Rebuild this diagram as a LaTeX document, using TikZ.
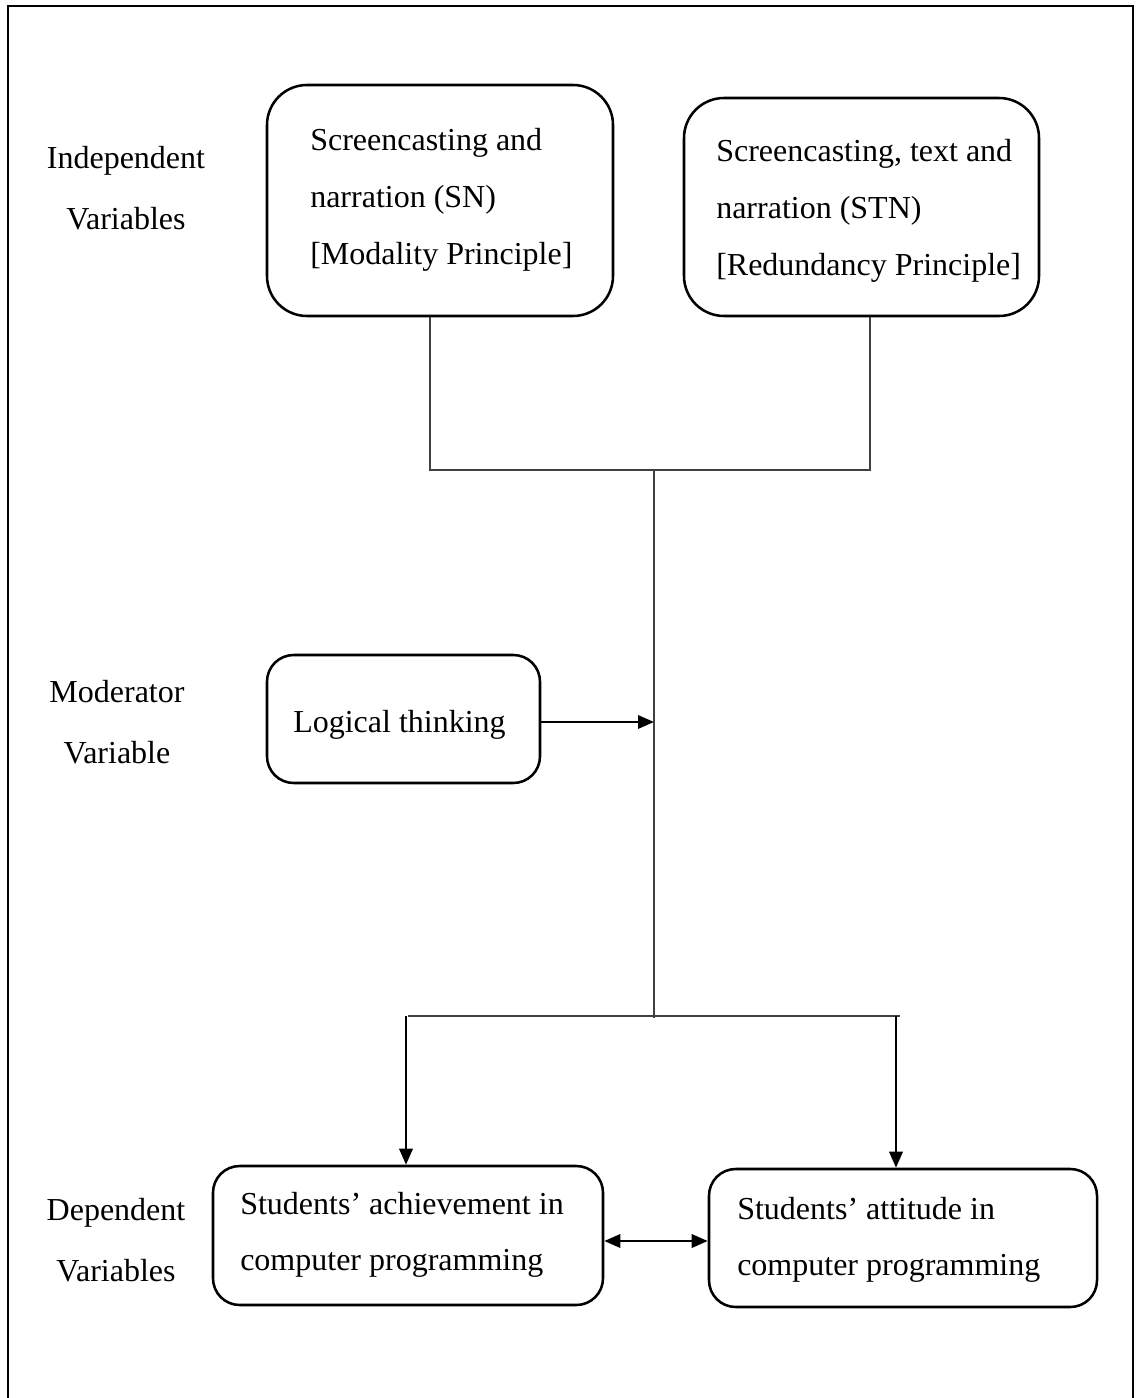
\documentclass[tikz,border=0pt]{standalone}
\usepackage{fontspec}
\setmainfont{Liberation Serif}
\usetikzlibrary{arrows.meta}
\begin{document}
\begin{tikzpicture}[x=0.75pt,y=-0.75pt,
  box/.style={draw,line width=1.9pt,rounded corners=#1,inner sep=0pt},
  box/.default=20pt,
  txt/.style={font=\fontsize{24}{42.5}\selectfont,align=left,inner sep=0pt,anchor=west},
  lbl/.style={font=\fontsize{24}{46}\selectfont,align=center,inner sep=0pt},
  thin/.style={draw=black!75,line width=1pt},
  arr/.style={draw,line width=1.8pt,-{Triangle[length=12pt,width=10pt]}},
  darr/.style={draw,line width=1.8pt,{Triangle[length=12pt,width=10pt]}-{Triangle[length=12pt,width=10pt]}}]
\useasboundingbox (0,0) rectangle (1135,1398);
% frame
\draw[line width=2.2pt] (8,1400) -- (8,6) -- (1133,6) -- (1133,1400);
% labels
\node[lbl] (l1) at (126,188) {Independent\\Variables};
\node[lbl] (l2) at (117,722) {Moderator\\Variable};
\node[lbl] (l3) at (116,1240) {Dependent\\Variables};
% boxes
\node[box=30pt,minimum width=346*0.75pt,minimum height=231*0.75pt] (sn) at (440,200.5) {};
\node[txt] (snt) at (310,200) {Screencasting and\\narration (SN)\\{[}Modality Principle{]}};
\node[box=30pt,minimum width=355*0.75pt,minimum height=218*0.75pt] (stn) at (861.5,207) {};
\node[txt] (stnt) at (716,211) {Screencasting, text and\\narration (STN)\\{[}Redundancy Principle{]}};
\node[box=20pt,minimum width=273*0.75pt,minimum height=128*0.75pt] (lt) at (403.5,719) {};
\node[txt] (ltt) at (293,725) {Logical thinking};
\node[box=20pt,minimum width=390*0.75pt,minimum height=139*0.75pt] (ach) at (408,1235.5) {};
\node[txt] (acht) at (240,1235) {Students’ achievement in\\computer programming};
\node[box=20pt,minimum width=388*0.75pt,minimum height=138*0.75pt] (att) at (903,1238) {};
\node[txt] (attt) at (737,1240) {Students’ attitude in\\computer programming};
% junctions
\coordinate (j1) at (430,470);
\coordinate (j2) at (870,470);
\coordinate (jm) at (654,470);
\coordinate (jb) at (654,1018);
\coordinate (bl) at (408,1016);
\coordinate (br) at (900,1016);
\coordinate (mid) at (654,722);
% connectors
\draw[thin] (sn.south -| j1) -- (j1) -- (j2) -- (stn.south -| j2);
\draw[thin] (jm) -- (jb);
\draw[thin] (bl) -- (br);
\draw[arr] (lt.east |- mid) -- (mid);
\draw[arr] (406,1016) -- (ach.north -| 406,0);
\draw[arr] (896,1016) -- (att.north -| 896,0);
\draw[darr] (ach.east |- 0,1241) -- (att.west |- 0,1241);
\end{tikzpicture}
\end{document}
